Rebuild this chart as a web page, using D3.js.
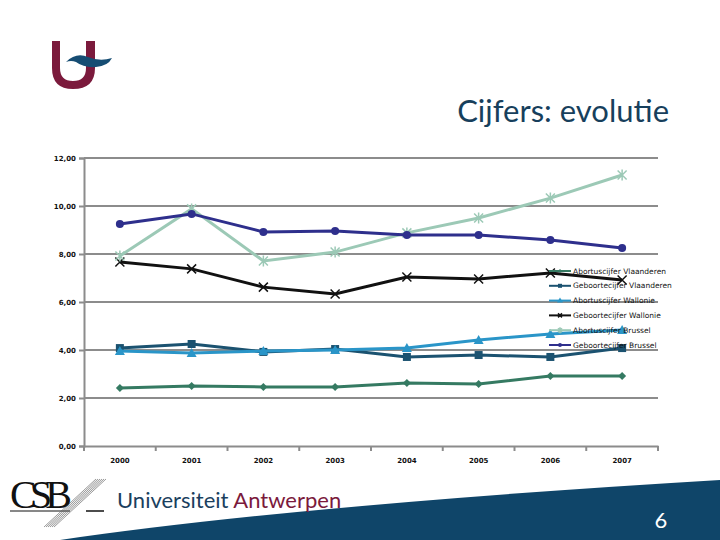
<!DOCTYPE html>
<html><head><meta charset="utf-8">
<script src="https://cdn.jsdelivr.net/npm/d3@7"></script>
<style>body{margin:0;background:#fff}svg{display:block}</style>
</head><body>
<script>
const years = ["2000","2001","2002","2003","2004","2005","2006","2007"];
const yTicks = [0,2,4,6,8,10,12];
const seriesNames = ["Abortuscijfer Vlaanderen","Geboortecijfer Vlaanderen","Abortuscijfer Wallonie","Geboortecijfer Wallonie","Abortuscijfer Brussel","Geboortecijfer Brussel"];
const abortusVlaanderen = [2.42,2.50,2.46,2.46,2.62,2.58,2.92,2.92];
const geboorteVlaanderen = [4.08,4.25,3.92,4.04,3.71,3.79,3.71,4.08];
const abortusWallonie = [3.96,3.88,3.96,4.00,4.08,4.42,4.67,4.83];
const geboorteWallonie = [7.67,7.38,6.62,6.33,7.04,6.96,7.21,6.92];
const abortusBrussel = [7.92,9.88,7.71,8.08,8.88,9.50,10.33,11.29];
const geboorteBrussel = [9.25,9.67,8.92,8.96,8.79,8.79,8.58,8.25];
const seriesValues = [abortusVlaanderen,geboorteVlaanderen,abortusWallonie,geboorteWallonie,abortusBrussel,geboorteBrussel];
const colors = ["#357a62","#1b5270","#2a95c8","#111111","#9cc9b6","#2e2f8c"];
const markers = ["diamond","square","triangle","x","star","circle"];

const W=720,H=540;
const svg=d3.select("body").append("svg").attr("width",W).attr("height",H);

// Logo top-left
const logo=svg.append("g");
logo.append("path").attr("d","M52,41 L60,41 L60,68 Q60,81 73,81 Q86,81 86,68 L86,41 L95,41 L95,68 Q95,89 73,89 Q52,89 52,68 Z").attr("fill","#7b1a3c");
logo.append("path").attr("d","M66,62 Q76,52 88,57 Q100,62 112,58 Q108,66 96,67 Q84,68 76,62 Q71,60 66,62 Z").attr("fill","#164d73");

// Title
svg.append("text").attr("x",669).attr("y",122).attr("text-anchor","end")
  .attr("font-family","Lato, 'Open Sans', sans-serif").attr("font-size",31).attr("fill","#173f5c").text("Cijfers: evolutie");

// Chart
const x=d3.scaleBand().domain(years).range([84,658]);
const y=d3.scaleLinear().domain([0,12]).range([446,158]);
const g=svg.append("g");
g.selectAll("line.grid").data(yTicks.filter(t=>t>0)).join("line").attr("class","grid")
  .attr("x1",84).attr("x2",658).attr("y1",d=>y(d)).attr("y2",d=>y(d)).attr("stroke","#8c8c8c").attr("stroke-width",2);
const yAxis=g.append("g").attr("transform","translate(84,0)").call(d3.axisLeft(y).tickValues(yTicks).tickSize(5).tickFormat(d=>d3.format(".2f")(d).replace(".",",")));
const xAxis=g.append("g").attr("transform","translate(0,446)").call(d3.axisBottom(x).tickSize(0));
xAxis.selectAll(".tick text").attr("dy",14);
[yAxis,xAxis].forEach(a=>{a.select(".domain").attr("stroke","#8c8c8c").attr("stroke-width",2);a.selectAll(".tick line").attr("stroke","#8c8c8c").attr("stroke-width",2);
  a.selectAll("text").attr("font-family","'DejaVu Sans', sans-serif").attr("font-size",7).attr("font-weight","bold").attr("fill","#111");});
yAxis.selectAll(".tick text").attr("x",-8);
// x ticks at band boundaries
g.selectAll("line.xt").data(d3.range(years.length+1)).join("line").attr("class","xt")
  .attr("x1",d=>84+d*x.bandwidth()).attr("x2",d=>84+d*x.bandwidth()).attr("y1",446).attr("y2",451).attr("stroke","#8c8c8c").attr("stroke-width",2);

const line=d3.line().x((d,i)=>x(years[i])+x.bandwidth()/2).y(d=>y(d));
function drawMarker(sel,type,color,cx,cy,s){
  const m=sel.append("g").attr("transform",`translate(${cx},${cy})`);
  if(type==="diamond") m.append("path").attr("d",`M0,${-s} L${s},0 L0,${s} L${-s},0Z`).attr("fill",color);
  else if(type==="square") m.append("rect").attr("x",-s).attr("y",-s).attr("width",2*s).attr("height",2*s).attr("fill",color);
  else if(type==="triangle") m.append("path").attr("d",`M0,${-s-1} L${s+1},${s} L${-s-1},${s}Z`).attr("fill",color);
  else if(type==="circle") m.append("circle").attr("r",s).attr("fill",color);
  else if(type==="x") m.append("path").attr("d",`M${-s},${-s}L${s},${s}M${-s},${s}L${s},${-s}`).attr("stroke",color).attr("stroke-width",1.5);
  else if(type==="star") m.append("path").attr("d",`M${-s},${-s}L${s},${s}M${-s},${s}L${s},${-s}M0,${-s-1}L0,${s+1}`).attr("stroke",color).attr("stroke-width",1.5);
}
seriesValues.forEach((vals,k)=>{
  g.append("path").datum(vals).attr("d",line).attr("fill","none").attr("stroke",colors[k]).attr("stroke-width",3);
  vals.forEach((v,i)=>drawMarker(g,markers[k],colors[k],x(years[i])+x.bandwidth()/2,y(v),markers[k]==="x"||markers[k]==="star"?4.5:4));
});

// Legend
const lg=svg.append("g");
seriesNames.forEach((n,k)=>{
  const yy=271+k*14.8;
  lg.append("line").attr("x1",549).attr("x2",571).attr("y1",yy).attr("y2",yy).attr("stroke",colors[k]).attr("stroke-width",2);
  drawMarker(lg,markers[k],colors[k],560,yy,2);
  lg.append("text").attr("x",573).attr("y",yy+2.5).attr("font-family","'DejaVu Sans', sans-serif").attr("font-size",7.5).attr("fill","#111").text(n);
});

// Bottom band
svg.append("path").attr("d","M60,540 Q300,505 720,480 L720,540 Z").attr("fill","#0f4569");
svg.append("text").attr("x",661).attr("y",528).attr("text-anchor","middle").attr("font-family","Lato, 'Open Sans', sans-serif").attr("font-size",22).attr("fill","#fff").text("6");

// CSB logo
svg.append("text").attr("x",10).attr("y",508).attr("font-family","'Liberation Serif', serif").attr("font-size",40).attr("fill","#111").attr("textLength",62).text("CSB");
svg.append("line").attr("x1",10).attr("x2",70).attr("y1",511).attr("y2",511).attr("stroke","#111").attr("stroke-width",1);
svg.append("line").attr("x1",86).attr("x2",104).attr("y1",511).attr("y2",511).attr("stroke","#111").attr("stroke-width",1.5);
const hatch=svg.append("g").attr("stroke","#555").attr("stroke-width",0.6);
d3.range(6).forEach(i=>hatch.append("line").attr("x1",44+i*2).attr("y1",527).attr("x2",96+i*2).attr("y2",479));
svg.append("text").attr("x",117).attr("y",508).attr("font-family","Lato, 'Open Sans', sans-serif").attr("font-size",22)
  .selectAll("tspan").data([["Universiteit ","#1b3f5e"],["Antwerpen","#7b1a3c"]]).join("tspan").attr("fill",d=>d[1]).text(d=>d[0]);
</script>
</body></html>
